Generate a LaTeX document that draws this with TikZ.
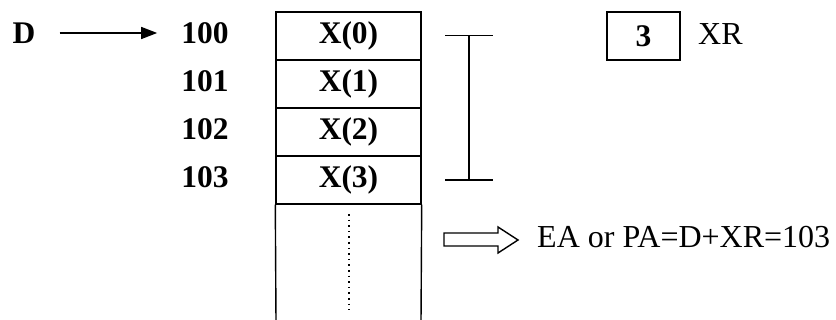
\documentclass[tikz,border=0pt]{standalone}
\usepackage{fontspec}
\setmainfont{Liberation Serif}
\usetikzlibrary{arrows.meta}
\begin{document}
\begin{tikzpicture}[x=1pt,y=-1pt,
  lw/.style={line width=1.4pt},
  bold/.style={font=\fontsize{31.5}{36}\selectfont\bfseries, inner sep=0pt},
  reg/.style={font=\fontsize{32}{36}\selectfont, inner sep=0pt},
  cell/.style={draw, lw, minimum width=145pt, minimum height=48pt, inner sep=0pt, font=\fontsize{31.5}{36}\selectfont\bfseries}]
\useasboundingbox (0,0) rectangle (836,320);
% pointer
\node[bold] (D) at (24,33) {D};
\node[bold] (a100) at (205,33) {100};
\node[bold] (a101) at (205,81) {101};
\node[bold] (a102) at (205,129) {102};
\node[bold] (a103) at (205,177) {103};
\draw[lw, -{Triangle[length=16pt,width=12pt]}, shorten <=24pt, shorten >=24pt] (D.east) -- (a100.west);
% memory cells
\node[cell] (c0) at (348.5,36) {X(0)};
\node[cell] (c1) at (348.5,84) {X(1)};
\node[cell] (c2) at (348.5,132) {X(2)};
\node[cell] (c3) at (348.5,180) {X(3)};
\coordinate (bl) at (276,322);
\coordinate (br) at (421,322);
\draw[lw] (c3.south west) -- (bl);
\draw[lw] (c3.south east) -- (br);
\coordinate (dt) at (349,214);
\coordinate (db) at (349,310);
\draw[line width=1.6pt, dash pattern=on 1.6pt off 4pt] (dt) -- (db);
% range bar
\coordinate (it) at (469,35.5);
\coordinate (ib) at (469,180);
\draw[lw] (it) -- (ib);
\draw[lw] (445,35.5) -- (493,35.5);
\draw[lw] (445,180) -- (493,180);
% index register
\node[draw, lw, minimum width=73pt, minimum height=48pt, inner sep=0pt, font=\fontsize{31.5}{36}\selectfont\bfseries] (xr) at (643.5,36) {3};
\node[reg, anchor=west] (xrl) at (698,34) {XR};
% hollow arrow and result
\draw[lw] (444,233) -- (498,233) -- (498,227) -- (518,240) -- (498,253) -- (498,246) -- (444,246) -- cycle;
\node[reg, anchor=west] (ea) at (537,237) {EA or PA=D+XR=103};
\end{tikzpicture}
\end{document}
